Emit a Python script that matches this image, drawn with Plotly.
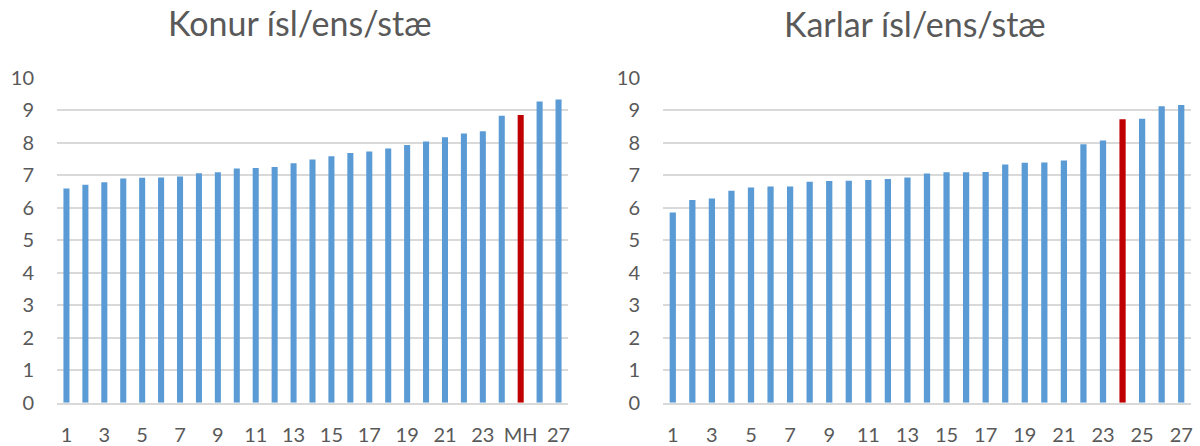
import plotly.graph_objects as go

# ---- data ----
konur_cats = [str(i) for i in range(1, 25)] + ["MH", "26", "27"]
konur_vals = [6.59, 6.71, 6.78, 6.90, 6.92, 6.93, 6.96, 7.06, 7.09, 7.21, 7.22, 7.25, 7.37,
              7.48, 7.58, 7.68, 7.73, 7.82, 7.93, 8.04, 8.17, 8.28, 8.35, 8.83, 8.85, 9.27, 9.33]

karlar_cats = [str(i) for i in range(1, 24)] + ["MH", "25", "26", "27"]
karlar_vals = [5.85, 6.24, 6.28, 6.52, 6.62, 6.65, 6.65, 6.80, 6.82, 6.83, 6.85, 6.88, 6.93,
               7.05, 7.09, 7.09, 7.10, 7.33, 7.38, 7.39, 7.45, 7.95, 8.07, 8.72, 8.74, 9.12, 9.16]

highlight = "MH"
titles = ["Konur ísl/ens/stæ", "Karlar ísl/ens/stæ"]
y_ticks = list(range(0, 11))

BLUE = "#5B9BD5"
RED = "#C00000"
GRID = "#D9D9D9"
TXT = "#595959"
FONT = "Lato, Open Sans, sans-serif"

fig = go.Figure()
for idx, (cats, vals) in enumerate([(konur_cats, konur_vals), (karlar_cats, karlar_vals)]):
    colors = [RED if c == highlight else BLUE for c in cats]
    fig.add_trace(go.Bar(
        x=cats, y=vals, marker=dict(color=colors, line=dict(width=0)),
        xaxis="x" if idx == 0 else "x2", yaxis="y" if idx == 0 else "y2",
        showlegend=False, hoverinfo="x+y",
    ))

W, H = 1200, 446
left_dom = [57 / W, 568 / W]
right_dom = [663 / W, 1191 / W]
y_dom = [(H - 402.7) / H, (H - 77.7) / H]

xcommon = dict(type="category", showgrid=False, showline=True, linecolor=GRID, linewidth=1.5,
               ticks="", tickfont=dict(family=FONT, size=20, color=TXT), ticklabelstandoff=14,
               automargin=False, fixedrange=True)
ycommon = dict(range=[0, 10], tickvals=y_ticks, showgrid=True, gridcolor=GRID, gridwidth=1.5,
               zeroline=False, showline=False, ticks="",
               tickfont=dict(family=FONT, size=20, color=TXT), ticklabelstandoff=22,
               automargin=False, fixedrange=True)

fig.update_layout(
    width=W, height=H,
    margin=dict(l=0, r=0, t=0, b=0, autoexpand=False),
    paper_bgcolor="white", plot_bgcolor="white",
    bargap=0.68,
    xaxis=dict(domain=left_dom, anchor="y", tickvals=konur_cats[::2],
               categoryorder="array", categoryarray=konur_cats, **xcommon),
    yaxis=dict(domain=y_dom, anchor="x", **ycommon),
    xaxis2=dict(domain=right_dom, anchor="y2", tickvals=karlar_cats[::2],
                categoryorder="array", categoryarray=karlar_cats, **xcommon),
    yaxis2=dict(domain=y_dom, anchor="x2", **ycommon),
    annotations=[
        dict(text=titles[0], x=300 / W, y=1 - 22 / H, xref="paper", yref="paper",
             xanchor="center", yanchor="middle", showarrow=False,
             font=dict(family=FONT, size=34, color=TXT)),
        dict(text=titles[1], x=915 / W, y=1 - 23 / H, xref="paper", yref="paper",
             xanchor="center", yanchor="middle", showarrow=False,
             font=dict(family=FONT, size=34, color=TXT)),
    ],
)

fig.write_html("out.html", config={"displayModeBar": False},
               post_script="document.body.style.margin='0';")
